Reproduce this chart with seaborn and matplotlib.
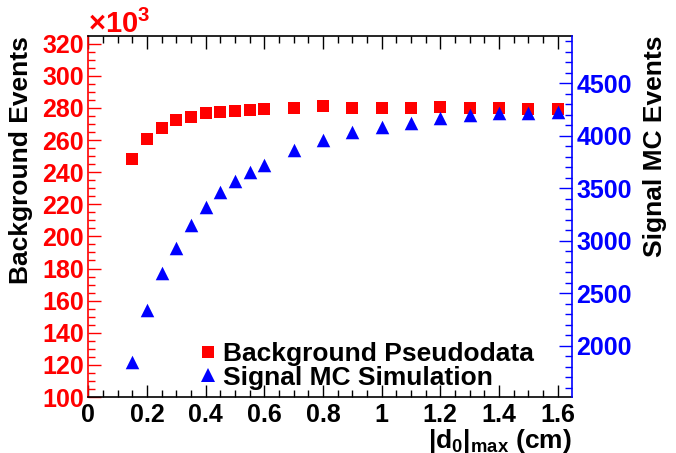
import numpy as np
import pandas as pd
import seaborn as sns
import matplotlib.pyplot as plt
from matplotlib.ticker import MultipleLocator, FuncFormatter
from matplotlib.lines import Line2D

# values (background in units of 10^3)
d0_max = [0.15, 0.2, 0.25, 0.3, 0.35, 0.4, 0.45, 0.5, 0.55, 0.6,
          0.7, 0.8, 0.9, 1.0, 1.1, 1.2, 1.3, 1.4, 1.5, 1.6]
bkg_events = [248.2, 260.9, 267.7, 272.5, 274.2, 276.7, 277.7, 278.3, 278.7, 279.2,
              279.8, 281.1, 280.0, 280.0, 280.0, 280.4, 280.2, 279.8, 279.4, 279.6]
sig_events = [1847, 2340, 2690, 2928, 3150, 3325, 3462, 3570, 3653, 3722,
              3865, 3960, 4039, 4087, 4125, 4167, 4199, 4215, 4221, 4224]
legend_labels = ['Background Pseudodata', 'Signal MC Simulation']

sns.set_theme(style='white')
plt.rcParams['font.family'] = ['Liberation Sans', 'DejaVu Sans']
plt.rcParams['font.weight'] = 'bold'
plt.rcParams['axes.labelweight'] = 'bold'
plt.rcParams['mathtext.fontset'] = 'custom'
plt.rcParams['mathtext.rm'] = 'Liberation Sans:bold'
plt.rcParams['mathtext.it'] = 'Liberation Sans:bold'
plt.rcParams['mathtext.bf'] = 'Liberation Sans:bold'
plt.rcParams['mathtext.default'] = 'rm'

df = pd.DataFrame({'d0': d0_max, 'bkg': bkg_events, 'sig': sig_events})

fig = plt.figure(figsize=(6.76, 4.53), dpi=100)
ax = fig.add_axes([0.1306, 0.1236, 0.7155, 0.797])
ax2 = ax.twinx()

sns.scatterplot(data=df, x='d0', y='bkg', ax=ax, marker='s', color='red', s=85, linewidth=0)
sns.scatterplot(data=df, x='d0', y='sig', ax=ax2, marker='^', color='blue', s=95, linewidth=0)

ax.set_xlim(0, 1.649)
ax.set_ylim(100, 324.8)
ax2.set_ylim(1511, 4951)

# spines
ax.spines['left'].set_color('red')
ax.spines['right'].set_visible(False)
ax.spines['top'].set_color('black')
ax.spines['bottom'].set_color('black')
ax2.spines['left'].set_visible(False)
ax2.spines['top'].set_visible(False)
ax2.spines['bottom'].set_visible(False)
ax2.spines['right'].set_color('blue')
for s in ax.spines.values():
    s.set_linewidth(1.2)
ax2.spines['right'].set_linewidth(1.2)

# x axis
ax.xaxis.set_major_locator(MultipleLocator(0.2))
ax.xaxis.set_minor_locator(MultipleLocator(0.05))
ax.xaxis.set_major_formatter(FuncFormatter(lambda v, p: f'{v:g}'))
ax.tick_params(axis='x', which='both', direction='in', top=True, bottom=True,
               colors='black', labelsize=18, pad=4)
ax.tick_params(axis='x', which='major', length=9, width=1)
ax.tick_params(axis='x', which='minor', length=5, width=1)

# left axis
ax.yaxis.set_major_locator(MultipleLocator(20))
ax.yaxis.set_minor_locator(MultipleLocator(5))
ax.tick_params(axis='y', which='both', direction='in', left=True, right=False,
               colors='red', labelsize=18, pad=3)
ax.tick_params(axis='y', which='major', length=9.5, width=1)
ax.tick_params(axis='y', which='minor', length=5, width=1)

# right axis
ax2.yaxis.set_major_locator(MultipleLocator(500))
ax2.yaxis.set_minor_locator(MultipleLocator(100))
ax2.tick_params(axis='y', which='both', direction='in', right=True, left=False,
                colors='blue', labelsize=18, pad=3)
ax2.tick_params(axis='y', which='major', length=9.5, width=1)
ax2.tick_params(axis='y', which='minor', length=5, width=1)

ax.set_xlabel(r'$|d_{0}|_{max}$ (cm)', fontsize=19, loc='right', labelpad=0, color='black')
ax.set_ylabel('Background Events', fontsize=19, loc='top', labelpad=7, color='black')
ax2.set_ylabel('Signal MC Events', fontsize=19, loc='top', labelpad=8, color='black')

ax.text(0, 1 + 3 / 361, r'×10$^{3}$', transform=ax.transAxes, color='red',
        fontsize=21, ha='left', va='baseline')

handles = [Line2D([], [], marker='s', color='red', linestyle='none', markersize=8, markeredgewidth=0),
           Line2D([], [], marker='^', color='blue', linestyle='none', markersize=9.5, markeredgewidth=0)]
leg = ax2.legend(handles, legend_labels, loc='center left', frameon=False,
                 bbox_to_anchor=(196 / 676, 1 - 366 / 453), bbox_transform=fig.transFigure,
                 fontsize=19, handlelength=0.9, handletextpad=0.12,
                 labelspacing=-0.03, borderpad=0, borderaxespad=0)
for t in leg.get_texts():
    t.set_color('black')

fig.savefig('out.png', dpi=100)
